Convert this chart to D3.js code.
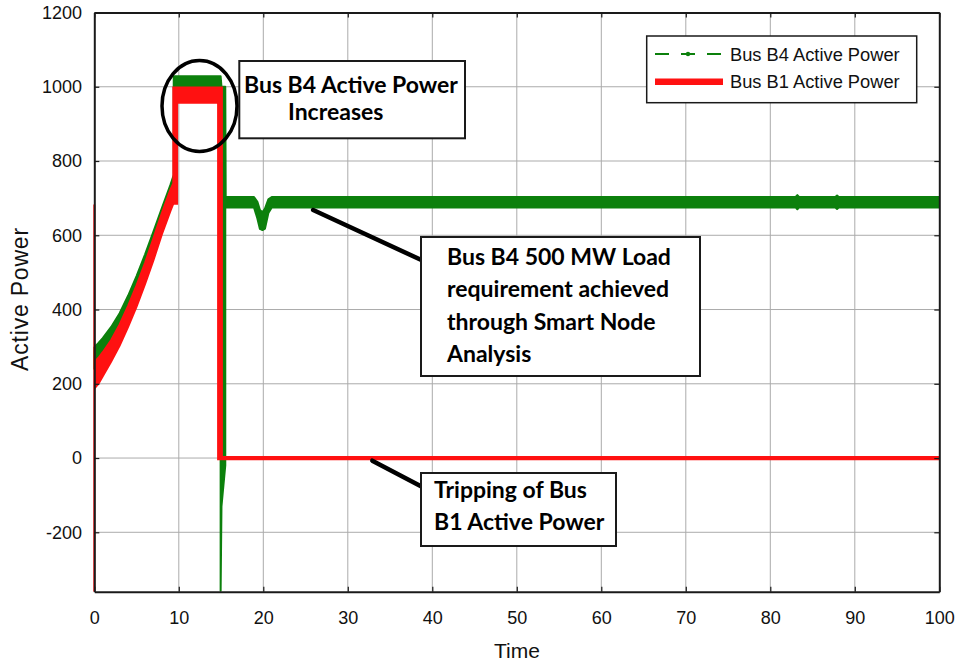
<!DOCTYPE html>
<html>
<head>
<meta charset="utf-8">
<script src="https://cdn.jsdelivr.net/npm/d3@7"></script>
<style>
  html, body { margin: 0; padding: 0; background: #fff; }
  svg { display: block; }
</style>
</head>
<body>
<svg id="chart" width="959" height="666"></svg>
<script>
// ---- axis ticks ----
const xTicks = [0, 10, 20, 30, 40, 50, 60, 70, 80, 90, 100];
const yTicks = [-200, 0, 200, 400, 600, 800, 1000, 1200];

// ---- Bus B4 active power: time and lower / upper envelope of the fast oscillation ----
const b4Time = [0, 0.5, 1, 2, 3, 4, 5, 6, 7, 8, 9, 9.4,
                9.4, 14.95, 14.95, 15.05, 15.5, 15.5, 15.55,
                18.9, 19.3, 19.6, 19.9, 20.2, 20.6, 21.0,
                83.0, 83.2, 83.4, 87.7, 87.9, 88.1, 100];
const b4Low  = [240, 250, 260, 285, 325, 375, 430, 490, 555, 625, 690, 705,
                1000, 1000, -358, -130, -20, 672, 675,
                675, 645, 617, 614, 618, 660, 675,
                675, 670, 675, 675, 671, 675, 675];
const b4High = [298, 310, 323, 353, 390, 437, 490, 548, 610, 673, 735, 762,
                1028, 1028, 1028, 1000, 1000, 1000, 703,
                703, 690, 668, 662, 672, 697, 703,
                703, 708, 703, 703, 707, 703, 703];

// ---- Bus B1 active power: time and lower / upper envelope ----
const b1Time = [0, 0, 0.5, 1, 2, 3, 4, 5, 6, 7, 8, 9, 9.35,
                9.35, 9.8, 9.8, 14.65, 14.65, 15.1, 15.1, 100];
const b1Low  = [-360, 187, 200, 220, 260, 303, 353, 408, 468, 533, 603, 665, 685,
                685, 685, 957, 957, -3, -3, -3, -3];
const b1High = [683, 258, 270, 285, 318, 360, 410, 465, 525, 592, 660, 722, 740,
                998, 998, 998, 998, 998, 998, 3, 3];

// ---- texts ----
const seriesNames = ["Bus B4 Active Power", "Bus B1 Active Power"];
const seriesColors = ["#0c800c", "#ff1111"];
const xTitle = "Time";
const yTitle = "Active Power";
const calloutPeak = ["Bus B4 Active Power", "Increases"];
const calloutLoad = ["Bus B4 500 MW Load", "requirement achieved", "through Smart Node", "Analysis"];
const calloutTrip = ["Tripping of Bus", "B1 Active Power"];

// ---- layout ----
const svg = d3.select("#chart");
const plotLeft = 94.3, plotRight = 939.3, plotTop = 12.5, plotBottom = 591.7;
const x = d3.scaleLinear().domain([0, 100]).range([plotLeft, plotRight]);
const y = d3.scaleLinear().domain([-360, 1200]).range([plotBottom, plotTop]);

svg.append("rect").attr("width", 959).attr("height", 666).attr("fill", "#fff");

// grid
const grid = svg.append("g").attr("stroke", "#ababab").attr("stroke-width", 1);
grid.selectAll("line.gx").data(xTicks.slice(1, -1)).join("line")
  .attr("class", "gx")
  .attr("x1", d => x(d)).attr("x2", d => x(d))
  .attr("y1", y(-360)).attr("y2", y(1200));
grid.selectAll("line.gy").data(yTicks.slice(0, -1)).join("line")
  .attr("class", "gy")
  .attr("x1", plotLeft).attr("x2", plotRight)
  .attr("y1", d => y(d)).attr("y2", d => y(d));

// series envelopes
svg.append("clipPath").attr("id", "plotClip")
  .append("rect").attr("x", plotLeft - 3).attr("y", plotTop)
  .attr("width", plotRight - plotLeft + 3).attr("height", plotBottom - plotTop);

const band = d3.area()
  .x(d => x(d.t))
  .y0(d => y(d.lo))
  .y1(d => y(d.hi));

const b4 = b4Time.map((t, i) => ({ t, lo: b4Low[i], hi: b4High[i] }));
const b1 = b1Time.map((t, i) => ({ t, lo: b1Low[i], hi: b1High[i] }));

const plot = svg.append("g").attr("clip-path", "url(#plotClip)");
plot.append("path").datum(b4).attr("d", band)
  .attr("fill", seriesColors[0]).attr("stroke", seriesColors[0])
  .attr("stroke-width", 2).attr("stroke-linejoin", "round");
plot.append("path").datum(b1).attr("d", band)
  .attr("fill", seriesColors[1]).attr("stroke", seriesColors[1])
  .attr("stroke-width", 2).attr("stroke-linejoin", "miter");

// axes
const axisFont = "'Liberation Sans', Arial, sans-serif";
const plainNumber = d => String(d);
function styleAxis(g) {
  g.select(".domain").attr("stroke", "#1a1a1a").attr("stroke-width", 2);
  g.selectAll(".tick line").attr("stroke", "#1a1a1a").attr("stroke-width", 1.2);
  g.selectAll(".tick text").attr("font-family", axisFont).attr("font-size", 18).attr("fill", "#111");
}
svg.append("g").attr("transform", `translate(0,${plotBottom})`)
  .call(d3.axisBottom(x).tickValues(xTicks).tickSizeInner(-5).tickSizeOuter(0).tickPadding(20).tickFormat(plainNumber))
  .call(styleAxis);
svg.append("g").attr("transform", `translate(0,${plotTop})`)
  .call(d3.axisTop(x).tickValues(xTicks).tickSizeInner(-5).tickSizeOuter(0).tickFormat(""))
  .call(styleAxis);
svg.append("g").attr("transform", `translate(${plotLeft},0)`)
  .call(d3.axisLeft(y).tickValues(yTicks).tickSizeInner(-5).tickSizeOuter(0).tickPadding(12.3).tickFormat(plainNumber))
  .call(styleAxis);
svg.append("g").attr("transform", `translate(${plotRight},0)`)
  .call(d3.axisRight(y).tickValues(yTicks).tickSizeInner(-5).tickSizeOuter(0).tickFormat(""))
  .call(styleAxis);

// axis titles
svg.append("text").text(xTitle)
  .attr("x", 517).attr("y", 658).attr("text-anchor", "middle")
  .attr("font-family", axisFont).attr("font-size", 21).attr("fill", "#111");
svg.append("text").text(yTitle)
  .attr("transform", "translate(28,299) rotate(-90)")
  .attr("text-anchor", "middle")
  .attr("font-family", axisFont).attr("font-size", 23).attr("letter-spacing", 0.8).attr("fill", "#111");

// legend
const legend = svg.append("g");
legend.append("rect").attr("x", 646.7).attr("y", 36).attr("width", 270).attr("height", 66.7)
  .attr("fill", "#fff").attr("stroke", "#1a1a1a").attr("stroke-width", 1.5);
legend.append("line").attr("x1", 655).attr("x2", 723).attr("y1", 54).attr("y2", 54)
  .attr("stroke", seriesColors[0]).attr("stroke-width", 1.8).attr("stroke-dasharray", "14,12");
legend.append("circle").attr("cx", 688).attr("cy", 54).attr("r", 2.2).attr("fill", seriesColors[0]);
legend.append("line").attr("x1", 655).attr("x2", 723).attr("y1", 81.7).attr("y2", 81.7)
  .attr("stroke", seriesColors[1]).attr("stroke-width", 6.5);
legend.selectAll("text.lg").data(seriesNames).join("text")
  .attr("class", "lg")
  .attr("x", 730).attr("y", (d, i) => 60.5 + i * 27.7)
  .attr("font-family", axisFont).attr("font-size", 18.3).attr("fill", "#111")
  .text(d => d);

// callouts
const calloutFont = "Lato, 'Open Sans', sans-serif";
// pick a bold font size so the longest line of the peak callout spans about 214px
const probe = svg.append("text").attr("font-family", calloutFont).attr("font-weight", 700)
  .attr("font-size", 100).text(calloutPeak[0]);
const calloutSize = 100 * 214 / probe.node().getComputedTextLength();
probe.remove();

function callout(box, lines, tx, firstBaseline, lineGap, indents) {
  const g = svg.append("g");
  g.append("rect").attr("x", box[0]).attr("y", box[1])
    .attr("width", box[2] - box[0]).attr("height", box[3] - box[1])
    .attr("fill", "#fff").attr("stroke", "#1a1a1a").attr("stroke-width", 2);
  g.selectAll("text").data(lines).join("text")
    .attr("x", (d, i) => tx + (indents ? indents[i] : 0))
    .attr("y", (d, i) => firstBaseline + i * lineGap)
    .attr("font-family", calloutFont).attr("font-weight", 700)
    .attr("font-size", calloutSize).attr("fill", "#000")
    .text(d => d);
}

// pointers from the traces to the callout boxes
const pointer = svg.append("g").attr("stroke", "#000").attr("stroke-width", 4.5).attr("stroke-linecap", "round");
pointer.append("line").attr("x1", x(25.9)).attr("y1", y(668)).attr("x2", 430).attr("y2", 264);
pointer.append("line").attr("x1", x(32.9)).attr("y1", y(-7)).attr("x2", 430).attr("y2", 491);

callout([239.3, 61, 465, 138.3], calloutPeak, 244, 93, 27, [0, 44]);
callout([421, 237, 700, 376], calloutLoad, 447, 265, 32.3);
callout([421, 473, 616, 546], calloutTrip, 434, 498, 32);

// ring around the B4 peak
svg.append("ellipse")
  .attr("cx", x(12.45)).attr("cy", y(948))
  .attr("rx", 37.5).attr("ry", 45.5)
  .attr("fill", "none").attr("stroke", "#000").attr("stroke-width", 3.5);
</script>
</body>
</html>
